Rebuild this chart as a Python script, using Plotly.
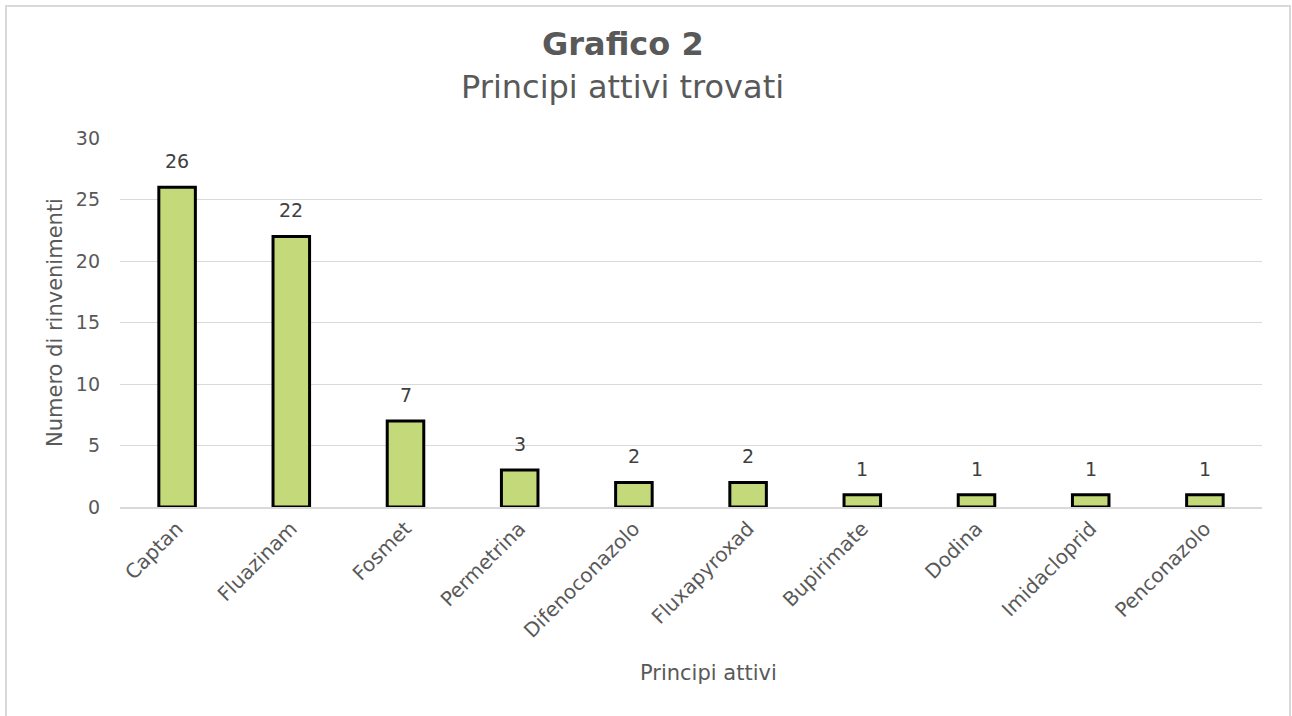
import plotly.graph_objects as go

categories = ["Captan", "Fluazinam", "Fosmet", "Permetrina", "Difenoconazolo",
              "Fluxapyroxad", "Bupirimate", "Dodina", "Imidacloprid", "Penconazolo"]
values = [26, 22, 7, 3, 2, 2, 1, 1, 1, 1]
y_ticks = [0, 5, 10, 15, 20, 25, 30]

W, H = 1292, 716
L, R, T, B = 120, 30, 138, 209
pw, ph = W - L - R, H - T - B

FONT = "DejaVu Sans, Verdana, sans-serif"
TXT = "#595959"

fig = go.Figure()
fig.add_trace(go.Bar(
    x=categories, y=values,
    marker=dict(color="#C4D97A", line=dict(color="#000000", width=3)),
    width=0.32,
    hoverinfo="x+y",
))

for c, v in zip(categories, values):
    fig.add_annotation(x=c, y=v, text=str(v), showarrow=False,
                       yanchor="bottom", yshift=13,
                       font=dict(family=FONT, size=19, color="#404040"))

def py(pix):
    return (H - B - pix) / ph

def px(pix):
    return (pix - L) / pw

fig.add_annotation(xref="paper", yref="paper", x=px(623), y=py(44),
                   text="<b>Grafico 2</b>", showarrow=False,
                   xanchor="center", yanchor="middle",
                   font=dict(family=FONT, size=32, color=TXT))
fig.add_annotation(xref="paper", yref="paper", x=px(622), y=py(87),
                   text="Principi attivi trovati", showarrow=False,
                   xanchor="center", yanchor="middle",
                   font=dict(family=FONT, size=32, color=TXT))
fig.add_annotation(xref="paper", yref="paper", x=px(708), y=py(673),
                   text="Principi attivi", showarrow=False,
                   xanchor="center", yanchor="middle",
                   font=dict(family=FONT, size=21, color=TXT))
fig.add_annotation(xref="paper", yref="paper", x=px(55), y=py(323),
                   text="Numero di rinvenimenti", showarrow=False, textangle=-90,
                   xanchor="center", yanchor="middle",
                   font=dict(family=FONT, size=21, color=TXT))

fig.add_shape(type="rect", xref="paper", yref="paper",
              x0=px(6), x1=px(1290), y0=py(720), y1=py(6),
              line=dict(color="#D9D9D9", width=2), fillcolor="rgba(0,0,0,0)",
              layer="below")

fig.update_layout(
    width=W, height=H,
    margin=dict(l=L, r=R, t=T, b=B, autoexpand=False),
    paper_bgcolor="white", plot_bgcolor="white",
    showlegend=False,
    font=dict(family=FONT, size=19, color=TXT),
    bargap=0.68,
)
fig.update_xaxes(
    tickangle=-45, tickfont=dict(family=FONT, size=20, color=TXT),
    showgrid=False, showline=True, linecolor="#D9D9D9", linewidth=2,
    ticks="", ticklabelstandoff=0, fixedrange=True,
)
fig.update_yaxes(
    range=[0, 30], tickvals=y_ticks, ticktext=[str(t) for t in y_ticks],
    tickfont=dict(family=FONT, size=19, color=TXT),
    showgrid=True, gridcolor="#D9D9D9", gridwidth=1,
    zeroline=False, showline=False, ticks="", ticklabelstandoff=19,
    fixedrange=True,
)

fig.write_html("out.html")
